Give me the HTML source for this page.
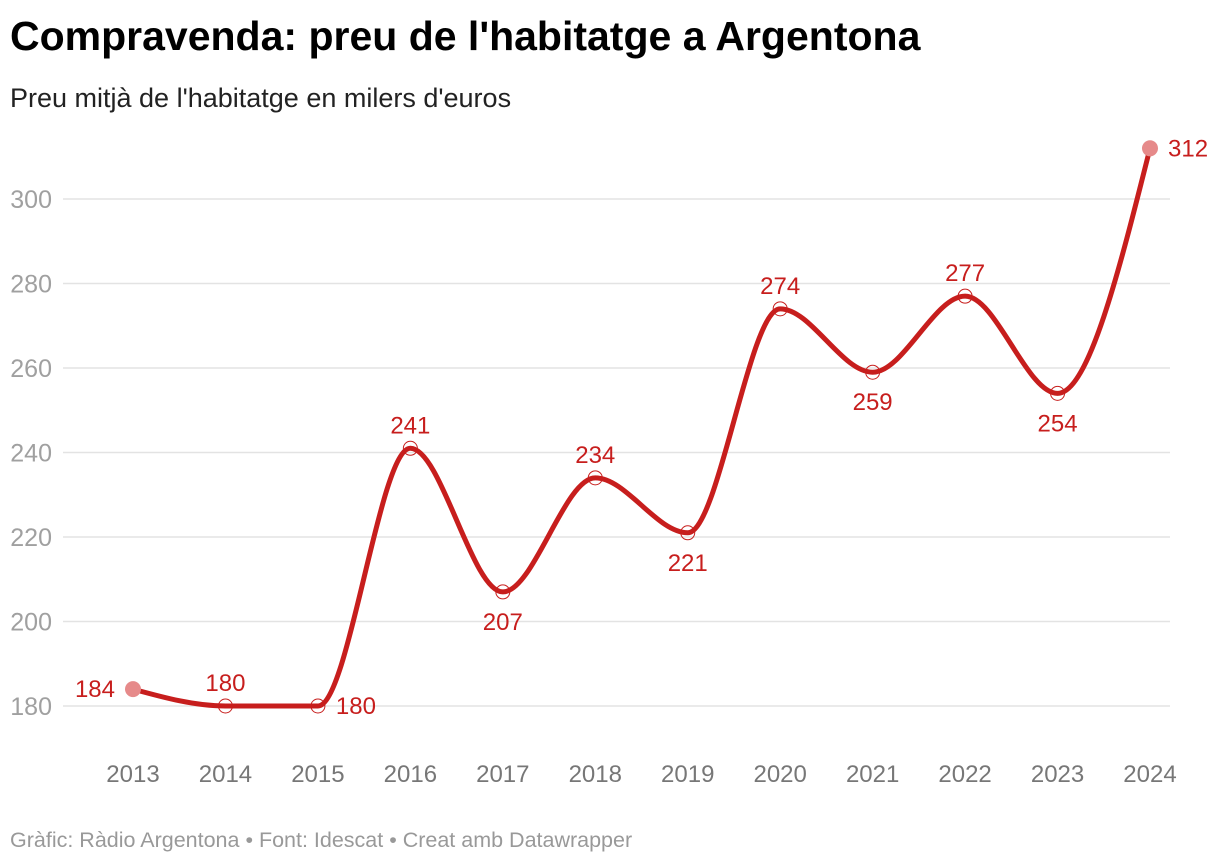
<!DOCTYPE html>
<html><head><meta charset="utf-8"><style>
body{margin:0;background:#fff;width:1220px;height:864px;overflow:hidden;font-family:"Liberation Sans",sans-serif}
#title{position:absolute;left:10px;top:12px;font-size:41px;font-weight:bold;color:#000;white-space:nowrap;line-height:48px}
#sub{position:absolute;left:10px;top:82px;font-size:27px;color:#222;white-space:nowrap;line-height:32px}
#foot{position:absolute;left:10px;top:827px;font-size:21.5px;color:#999;white-space:nowrap;line-height:26px}
svg{position:absolute;left:0;top:0}
</style></head><body>
<div id="title">Compravenda: preu de l'habitatge a Argentona</div>
<div id="sub">Preu mitjà de l'habitatge en milers d'euros</div>
<svg id="c" width="1220" height="864"></svg>
<div id="foot">Gràfic: Ràdio Argentona • Font: Idescat • Creat amb Datawrapper</div>
<script>
const years=[2013,2014,2015,2016,2017,2018,2019,2020,2021,2022,2023,2024];
const prices=[184,180,180,241,207,234,221,274,259,277,254,312];
const labelPos=['left','above','right','above','below','above','below','above','below','above','below','right'];
const yTicks=[180,200,220,240,260,280,300];
const NS='http://www.w3.org/2000/svg';
const svg=document.getElementById('c');
const x=v=>133+(v-2013)*(1150-133)/11;
const y=v=>706-(v-180)*(706-199)/120;
function mk(t,a,p){const e=document.createElementNS(NS,t);for(const k in a)e.setAttribute(k,a[k]);(p||svg).appendChild(e);return e;}
yTicks.forEach(t=>{
 const g=mk('line',{x1:63,x2:1170,y1:y(t),y2:y(t),stroke:'#e3e3e3','stroke-width':1.5});
 
 
 const l=mk('text',{x:52,y:y(t)+9,'text-anchor':'end','font-size':25,fill:'#a0a0a0'});l.textContent=t;
 
 
});
years.forEach(yr=>{
 const l=mk('text',{x:x(yr),y:782,'text-anchor':'middle','font-size':24,fill:'#777'});l.textContent=yr;
 
 
});
const px=years.map(x),py=prices.map(y),n=px.length;
const sl=[];for(let i=0;i<n-1;i++)sl.push((py[i+1]-py[i])/(px[i+1]-px[i]));
const m=new Array(n);
for(let i=1;i<n-1;i++){const a=sl[i-1],b=sl[i];if(a*b<=0)m[i]=0;else{const h0=px[i]-px[i-1],h1=px[i+1]-px[i];const p=(a*h1+b*h0)/(h0+h1);m[i]=(Math.sign(a)+Math.sign(b))*Math.min(Math.abs(a),Math.abs(b),0.5*Math.abs(p));}}
m[0]=(3*sl[0]-m[1])/2;m[n-1]=(3*sl[n-2]-m[n-2])/2;
if(sl[0]*m[0]<0)m[0]=0;
let d='M'+px[0]+','+py[0];
for(let i=0;i<n-1;i++){const h=(px[i+1]-px[i])/3;d+=' C'+(px[i]+h)+','+(py[i]+m[i]*h)+' '+(px[i+1]-h)+','+(py[i+1]-m[i+1]*h)+' '+px[i+1]+','+py[i+1];}
const line=mk('path',{d:d,fill:'none',stroke:'#c71e1d','stroke-width':5,'stroke-linecap':'round'});


years.forEach((yr,i)=>{
 const cx=px[i],cy=py[i];const end=(i==0||i==n-1);
 const c=end?mk('circle',{cx:cx,cy:cy,r:8,fill:'#e68a8a'}):mk('circle',{cx:cx,cy:cy,r:7,fill:'none',stroke:'#c71e1d','stroke-width':1});
 
 
 const p=labelPos[i];let tx=cx,ty=cy,anc='middle';
 if(p=='above')ty=cy-15;else if(p=='below')ty=cy+38;else if(p=='left'){tx=cx-18;ty=cy+8;anc='end';}else{tx=cx+18;ty=cy+8;anc='start';}
 const t=mk('text',{x:tx,y:ty,'text-anchor':anc,'font-size':24,fill:'#c71e1d'});t.textContent=prices[i];
 
 
});
</script>
</body></html>
